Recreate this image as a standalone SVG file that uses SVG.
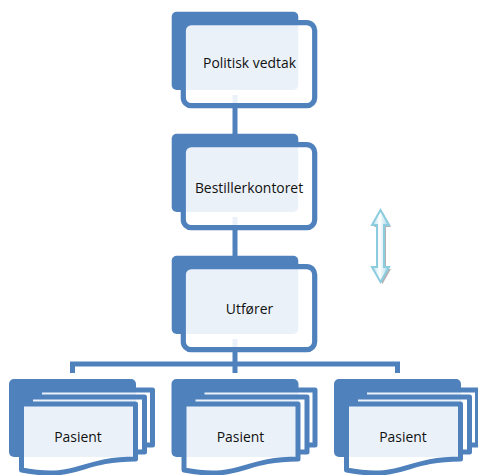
<svg xmlns="http://www.w3.org/2000/svg" width="478" height="475" viewBox="0 0 478 475">
  <defs>
    <style>
      .back { fill: #4F81BD; }
      .frame { fill: #FFFFFF; fill-opacity: 0.89; stroke: #4F81BD; stroke-width: 5.2; }
      .doc { fill: none; stroke: #4F81BD; stroke-width: 5; stroke-linejoin: round; }
      .docfill { fill: #FFFFFF; fill-opacity: 0.89; stroke: none; }
      .label { font-family: "Open Sans", "Noto Sans", "Liberation Sans", sans-serif; font-size: 13.9px; fill: #111111; text-anchor: middle; }
      .link { fill: none; stroke: #4F81BD; stroke-width: 5; }
    </style>
    <linearGradient id="arrowGrad" x1="0" y1="0" x2="1" y2="0">
      <stop offset="0" stop-color="#B4DFEB"/>
      <stop offset="0.45" stop-color="#FFFFFF"/>
      <stop offset="1" stop-color="#A2D7E6"/>
    </linearGradient>
    <!-- stacked document shape, drawn around x = 0 -->
    <g id="multidoc">
      <path class="docfill" d="M-51,404 L-42,404 L-42,397 L-33,397 L-33,390 L80,390 L80,445 L72,445 L72,452 L63,452 L63,459 C6,459 6,481 -51,470 Z"/>
      <path class="doc" d="M-33,397 L-33,390 L80,390 L80,445 L72,445"/>
      <path class="doc" d="M-42,404 L-42,397 L72,397 L72,452 L63,452"/>
      <path class="doc" d="M-51,404 L63,404 L63,459 C6,459 6,481 -51,470 Z"/>
    </g>
  </defs>

  <!-- connectors -->
  <g id="connectors">
    <path class="link" d="M235,95 V134"/>
    <path class="link" d="M235,217 V256"/>
    <path class="link" d="M235,339 V364"/>
    <path class="link" d="M72.5,373 V364 H397.5 V373 M235,364 V373"/>
  </g>

  <g id="politisk-vedtak">
    <rect class="back" x="171.7" y="11.7" width="126.6" height="78.3" rx="5"/>
    <rect class="frame" x="183.3" y="22.6" width="131.4" height="83.1" rx="8"/>
    <text class="label" x="249.5" y="68.3">Politisk vedtak</text>
  </g>

  <g id="bestillerkontoret">
    <rect class="back" x="171.7" y="133.7" width="126.6" height="78.3" rx="5"/>
    <rect class="frame" x="183.3" y="144.6" width="131.4" height="83.1" rx="8"/>
    <text class="label" x="249" y="193.3">Bestillerkontoret</text>
  </g>

  <g id="utforer">
    <rect class="back" x="171.7" y="255.7" width="126.6" height="78.3" rx="5"/>
    <rect class="frame" x="183.3" y="266.6" width="131.4" height="83.1" rx="8"/>
    <text class="label" x="249.5" y="314">Utfører</text>
  </g>

  <g id="pasient-1" transform="translate(72.5,0)">
    <rect class="back" x="-63.5" y="379" width="127" height="78" rx="5"/>
    <use href="#multidoc"/>
    <text class="label" x="5.5" y="442">Pasient</text>
  </g>

  <g id="pasient-2" transform="translate(235,0)">
    <rect class="back" x="-63.5" y="379" width="127" height="78" rx="5"/>
    <use href="#multidoc"/>
    <text class="label" x="5.5" y="442">Pasient</text>
  </g>

  <g id="pasient-3" transform="translate(397.5,0)">
    <rect class="back" x="-63.5" y="379" width="127" height="78" rx="5"/>
    <use href="#multidoc"/>
    <text class="label" x="5.5" y="442">Pasient</text>
  </g>

  <!-- two-way arrow with a soft drop shadow -->
  <g id="double-arrow">
    <path d="M380.5,210 L389,225 L384,225 L384,267 L389,267 L380.5,282 L372,267 L377,267 L377,225 L372,225 Z" fill="#7F7F7F" fill-opacity="0.6" transform="translate(2,2)"/>
    <path d="M380.5,210 L389,225 L384,225 L384,267 L389,267 L380.5,282 L372,267 L377,267 L377,225 L372,225 Z" fill="url(#arrowGrad)" stroke="#8CCCDF" stroke-width="2" stroke-linejoin="miter"/>
  </g>
</svg>
